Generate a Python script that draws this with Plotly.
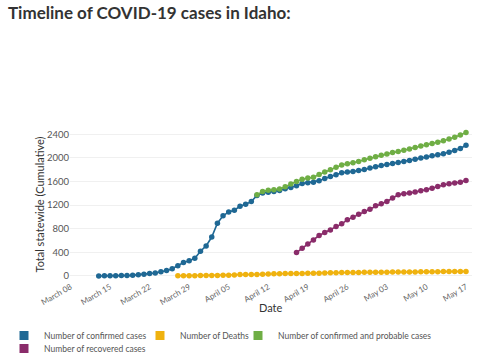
import pandas as pd
import plotly.graph_objects as go

title_text = "Timeline of COVID-19 cases in Idaho:"

confirmed_dates = pd.date_range("2020-03-13", "2020-05-17").strftime("%Y-%m-%d").tolist()
confirmed = [1, 2, 5, 5, 8, 9, 11, 23, 31, 42, 50, 73, 91, 123, 175, 228, 258, 300, 420, 510,
             660, 895, 1020, 1085, 1115, 1180, 1215, 1260, 1365, 1405, 1420, 1432, 1450, 1478,
             1500, 1530, 1565, 1580, 1588, 1615, 1650, 1685, 1715, 1748, 1760, 1770, 1785, 1805,
             1830, 1852, 1870, 1888, 1905, 1922, 1940, 1958, 1978, 1998, 2015, 2035, 2052, 2072,
             2098, 2125, 2160, 2215]

deaths_dates = pd.date_range("2020-03-27", "2020-05-17").strftime("%Y-%m-%d").tolist()
deaths = [3, 4, 5, 6, 7, 9, 10, 10, 12, 13, 18, 24, 25, 27, 27, 30, 33, 36, 39, 41, 41, 43,
          44, 45, 47, 48, 51, 54, 56, 57, 58, 60, 61, 63, 63, 63, 64, 64, 66, 67, 67, 69, 69,
          71, 72, 73, 73, 74, 75, 76, 77, 78]

probable_dates = pd.date_range("2020-04-10", "2020-05-17").strftime("%Y-%m-%d").tolist()
probable = [1375, 1430, 1452, 1462, 1475, 1512, 1560, 1600, 1640, 1662, 1672, 1720, 1760,
            1800, 1840, 1880, 1902, 1918, 1940, 1968, 1995, 2020, 2046, 2068, 2090, 2110,
            2132, 2152, 2178, 2200, 2222, 2245, 2264, 2292, 2322, 2352, 2390, 2430]

recovered_dates = pd.date_range("2020-04-17", "2020-05-17").strftime("%Y-%m-%d").tolist()
recovered = [396, 470, 543, 611, 685, 736, 781, 837, 883, 951, 996, 1047, 1092, 1132, 1188,
             1222, 1262, 1319, 1375, 1392, 1404, 1421, 1443, 1460, 1488, 1517, 1545, 1562,
             1574, 1590, 1619]

tick_dates = pd.date_range("2020-03-08", "2020-05-17", freq="7D").strftime("%Y-%m-%d").tolist()
tick_labels = ["March 08", "March 15", "March 22", "March 29", "April 05", "April 12",
               "April 19", "April 26", "May 03", "May 10", "May 17"]
y_ticks = [0, 400, 800, 1200, 1600, 2000, 2400]

series = [
    ("Number of confirmed cases", confirmed_dates, confirmed, "#1f6894"),
    ("Number of Deaths", deaths_dates, deaths, "#efb20f"),
    ("Number of confirmed and probable cases", probable_dates, probable, "#6fae45"),
    ("Number of recovered cases", recovered_dates, recovered, "#8a2c6a"),
]
legend_ids = ["legend", "legend2", "legend3", "legend4"]

fig = go.Figure()
for name, xs, ys, col in series:
    fig.add_trace(go.Scatter(x=xs, y=ys, mode="lines+markers", name=name,
                             line=dict(color=col, width=1.6),
                             marker=dict(color=col, size=5.5),
                             showlegend=False, hoverinfo="x+y+name"))
for (name, xs, ys, col), lg in zip(series, legend_ids):
    fig.add_trace(go.Scatter(x=[None], y=[None], mode="markers", name=name,
                             marker=dict(color=col, size=9, symbol="square"),
                             showlegend=True, legend=lg))

legend_font = dict(family="Lato, sans-serif", size=8.5, color="#555")
# legend placement (paper coords), plot area spans 70..472 px, 129..280 px
L = 70.0
W = 402.0
H = 151.0
def px_x(p):
    return (p - L) / W
def px_y(p):
    return (280.0 - p) / H

leg_common = dict(orientation="h", xanchor="left", yanchor="top", font=legend_font,
                  itemclick=False, itemdoubleclick=False, bgcolor="rgba(0,0,0,0)")

fig.update_layout(
    width=500, height=360,
    margin=dict(l=70, r=28, t=129, b=80, autoexpand=False),
    paper_bgcolor="white", plot_bgcolor="white",
    font=dict(family="Lato, 'Open Sans', sans-serif", color="#444"),
    title=dict(text="<b>" + title_text + "</b>", x=0.016, xanchor="left",
               y=0.98, yanchor="top",
               font=dict(family="Lato, 'Open Sans', sans-serif", size=17, color="#333")),
    legend=dict(x=px_x(4), y=px_y(321), **leg_common),
    legend2=dict(x=px_x(140), y=px_y(321), **leg_common),
    legend3=dict(x=px_x(238), y=px_y(321), **leg_common),
    legend4=dict(x=px_x(4), y=px_y(334), **leg_common),
    xaxis=dict(range=["2020-03-07 21:50", "2020-05-18 01:30"],
               tickmode="array", tickvals=tick_dates, ticktext=tick_labels,
               tickangle=-30, tickfont=dict(size=8, color="#666"),
               showgrid=False, zeroline=False, showline=False),
    yaxis=dict(range=[-68, 2490], tickmode="array", tickvals=y_ticks,
               tickfont=dict(size=9.5, color="#555"),
               showgrid=True, gridcolor="#f0f0f0", gridwidth=1,
               zeroline=False, showline=False,
               title=dict(text="Total statewide (Cumulative)", font=dict(size=11, color="#333"),
                          standoff=0)),
    annotations=[dict(text="Date", xref="paper", yref="paper", x=0.5, y=-0.185,
                      xanchor="center", yanchor="middle", showarrow=False,
                      font=dict(size=11, color="#333"))],
)

fig.write_html("out.html", config={"displayModeBar": False},
               post_script="document.body.style.margin='0';")
